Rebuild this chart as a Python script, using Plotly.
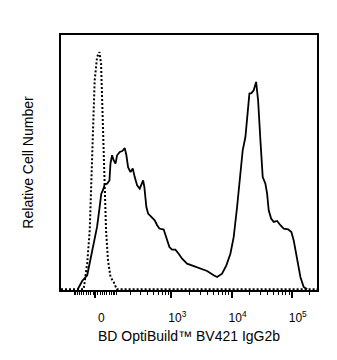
import numpy as np
import plotly.graph_objects as go

# Biexponential-style display: positions follow asinh(intensity / COFACTOR)
COFACTOR = 110.0
X_MIN, X_MAX = -190, 262144

# Isotype control histogram (dotted)
iso_intensity = [-190, -51, -35, -24, -17, -11, -3, 7, 17, 24, 28, 33, 39, 46,
                 55, 67, 83, 100, 262144]
iso_count = [0, 0, 11.0, 24.9, 45.9, 67.0, 88.1, 97.9, 100, 95.2, 81.0, 60.0,
             41.7, 24.9, 12.2, 5.2, 3.1, 0, 0]

# Stained sample histogram (solid)
stain_intensity = [-80, -58, -35, -21, -7, 7, 18, 25, 33, 40, 51, 62, 67, 75, 83,
                   93, 102, 118, 134, 151, 163, 176, 196, 216, 235, 260, 289, 310,
                   332, 349, 378, 405, 461, 525, 577, 630, 744, 825, 927, 1029,
                   1167, 1324, 1509, 1827, 2212, 2681, 3039, 3927, 5049, 5753,
                   6963, 8206, 9570, 10857, 12364, 14025, 15323, 16995, 18557,
                   19800, 21373, 23331, 25575, 27610, 30151, 32923, 36498, 38951,
                   41404, 45397, 50116, 57068, 64735, 73447, 86867, 98549, 107613,
                   122540, 139040, 157520, 179520]
stain_count = [0, 3.5, 5.9, 12.2, 19.4, 26.3, 34.7, 40.3, 42.0, 44.2, 44.5, 45.9,
               53.0, 56.5, 54.4, 53.0, 56.5, 57.9, 58.3, 59.5, 56.5, 51.5, 49.4,
               50.9, 47.3, 43.8, 42.4, 44.5, 45.9, 43.1, 34.7, 31.9, 30.5, 29.1,
               27.0, 25.6, 25.2, 22.0, 17.8, 16.7, 16.7, 15.0, 12.9, 10.8, 10.1,
               9.4, 8.7, 7.7, 5.9, 5.2, 6.6, 10.1, 15.0, 22.0, 34.7, 48.8, 58.6,
               64.2, 74.0, 82.5, 82.7, 83.9, 87.4, 79.6, 62.8, 47.3, 44.5, 40.3,
               33.3, 29.8, 28.4, 28.8, 27.0, 25.6, 25.3, 24.1, 20.6, 12.2, 5.2,
               1.0, 0]

# Axis ticks
major_ticks = [0, 1e3, 1e4, 1e5]
major_labels = ["0", "10<sup>3</sup>", "10<sup>4</sup>", "10<sup>5</sup>"]
minor_ticks = ([-v for v in range(10, 101, 10)] + list(range(10, 101, 10))
               + [m * 10 ** k for k in (2, 3, 4) for m in range(2, 10)] + [2e5])


def to_display(values):
    return np.arcsinh(np.asarray(values, dtype=float) / COFACTOR)


fig = go.Figure()
fig.add_trace(go.Scatter(
    x=to_display(iso_intensity), y=iso_count, mode="lines",
    line=dict(color="black", width=2, dash="2px,2px"),
    hoverinfo="skip", showlegend=False))
fig.add_trace(go.Scatter(
    x=to_display(stain_intensity), y=stain_count, mode="lines",
    line=dict(color="black", width=1.8),
    hoverinfo="skip", showlegend=False))

font = "Arial, Liberation Sans, sans-serif"
fig.update_layout(
    width=337, height=360,
    margin=dict(l=61, r=20, t=35, b=70),
    paper_bgcolor="white", plot_bgcolor="white",
    font=dict(family=font, color="black"),
    xaxis=dict(
        range=[float(to_display(X_MIN)), float(to_display(X_MAX))],
        tickmode="array", tickvals=to_display(major_ticks), ticktext=major_labels,
        ticks="outside", ticklen=6, tickwidth=2, tickcolor="black",
        tickfont=dict(size=12, family=font), ticklabelshift=6,
        ticklabelstandoff=10,
        minor=dict(tickmode="array", tickvals=to_display(minor_ticks),
                   ticks="outside", ticklen=3, tickwidth=1, tickcolor="black",
                   showgrid=False),
        showgrid=False, zeroline=False,
        showline=True, linecolor="black", linewidth=1.5, mirror=True,
        title=dict(text="BD OptiBuild™ BV421 IgG2b", font=dict(size=14), standoff=7),
    ),
    yaxis=dict(
        range=[-0.3, 107.2],
        showticklabels=False, ticks="", showgrid=False, zeroline=False,
        showline=True, linecolor="black", linewidth=1.5, mirror=True,
        title=dict(text="Relative Cell Number", font=dict(size=14), standoff=22),
    ),
)

fig.write_html("out.html")
